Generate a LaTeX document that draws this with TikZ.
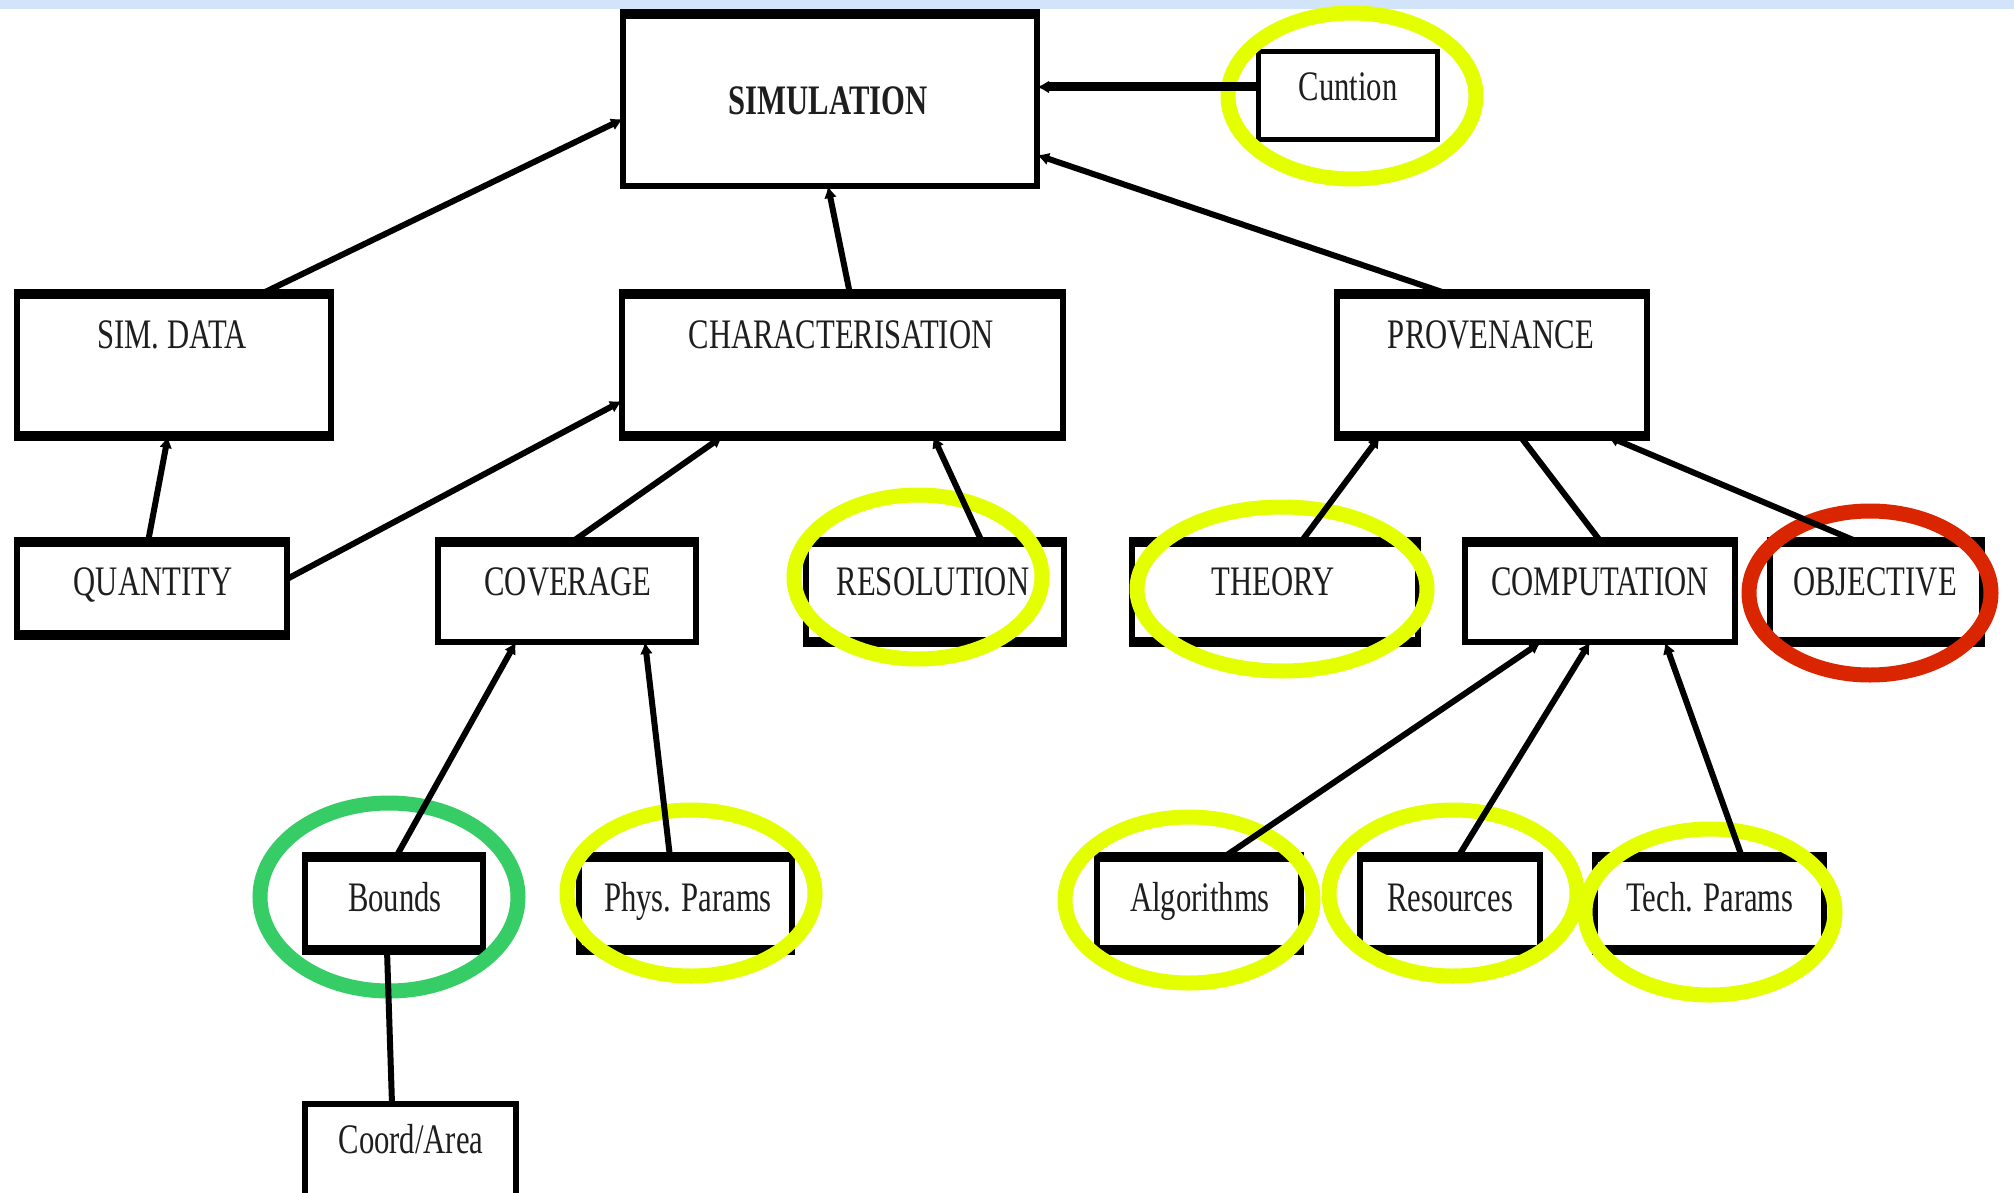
\documentclass[tikz,border=0pt]{standalone}
\usepackage{fontspec}
\newfontfamily\cfont[FakeStretch=0.73]{Liberation Serif}
\usetikzlibrary{arrows.meta,calc}
\definecolor{hlyellow}{RGB}{228,255,0}
\definecolor{hlgreen}{RGB}{54,204,102}
\definecolor{hlred}{RGB}{218,38,0}
\definecolor{bandblue}{RGB}{210,228,250}
\definecolor{txt}{RGB}{30,30,30}
\tikzset{
  box/.style={draw, line width=3pt, outer sep=0pt, inner sep=0pt},
  thickedge/.style={line width=5pt},
  lbl/.style={anchor=base, inner sep=0pt, text=txt, font=\cfont\fontsize{21}{25}\selectfont},
  conn/.style={line width=3pt, -{Latex[length=6pt,width=6.5pt]}},
  plainconn/.style={line width=3pt},
  ring/.style={line width=7.5pt},
}
\begin{document}
\begin{tikzpicture}[x=0.5pt,y=-0.5pt]
\useasboundingbox (0,0) rectangle (2014,1193);
\clip (0,0) rectangle (2014,1193);
\fill[white] (0,0) rectangle (2014,1193);
\fill[bandblue] (0,0) rectangle (2014,9);

% boxes
\node[box, minimum width=207pt, minimum height=86pt] (sim) at (830,100) {};
\node[box, line width=2.5pt, minimum width=89.5pt, minimum height=44pt] (cun) at (1347.5,96) {};
\node[box, minimum width=157pt, minimum height=71pt] (simdata) at (174,365) {};
\node[box, minimum width=220.5pt, minimum height=71pt] (char) at (842.5,365) {};
\node[box, minimum width=155pt, minimum height=71pt] (prov) at (1492,365) {};
\node[box, minimum width=135pt, minimum height=46.5pt] (quantity) at (152,588.5) {};
\node[box, minimum width=129pt, minimum height=50pt] (coverage) at (567,592) {};
\node[box, minimum width=129pt, minimum height=50pt] (resolution) at (935,592) {};
\node[box, minimum width=143pt, minimum height=50pt] (theory) at (1275,592) {};
\node[box, minimum width=135pt, minimum height=50pt] (comp) at (1600,592) {};
\node[box, minimum width=106pt, minimum height=50pt] (obj) at (1876,592) {};
\node[box, minimum width=89pt, minimum height=46.5pt] (bounds) at (394,903.5) {};
\node[box, minimum width=106.5pt, minimum height=46.5pt] (phys) at (685.5,903.5) {};
\node[box, minimum width=102pt, minimum height=46.5pt] (alg) at (1199,903.5) {};
\node[box, minimum width=90pt, minimum height=46.5pt] (res) at (1450,903.5) {};
\node[box, minimum width=114.5pt, minimum height=46.5pt] (tech) at (1709.5,903.5) {};
\node[box, minimum width=105.5pt, minimum height=48pt] (coord) at (410.5,1152) {};

% thicker top borders
\foreach \n in {sim,simdata,char,prov,quantity,coverage,resolution,theory,comp,obj,bounds,phys,alg,res,tech}
  \draw[thickedge] ($(\n.north west)+(-3,0)$) -- ($(\n.north east)+(3,0)$);
% thicker bottom borders
\foreach \n in {simdata,char,prov,quantity,resolution,theory,obj,bounds,phys,alg,res,tech}
  \draw[thickedge] ($(\n.south west)+(-3,0)$) -- ($(\n.south east)+(3,0)$);

% highlight rings
\draw[ring, hlyellow] (1352,96) ellipse [x radius=124, y radius=83];
\draw[ring, hlyellow] (918,577) ellipse [x radius=124, y radius=82];
\draw[ring, hlyellow] (1282,589) ellipse [x radius=145, y radius=82];
\draw[ring, hlred] (1870,593) ellipse [x radius=121, y radius=82];
\draw[ring, hlgreen] (389,897) ellipse [x radius=129, y radius=94];
\draw[ring, hlyellow] (691,893) ellipse [x radius=124, y radius=83];
\draw[ring, hlyellow] (1189,900) ellipse [x radius=124, y radius=83];
\draw[ring, hlyellow] (1453,893) ellipse [x radius=124, y radius=83];
\draw[ring, hlyellow] (1710,912) ellipse [x radius=125, y radius=83];

% connectors
\draw[conn] ($(simdata.north)+(87,0)$) -- ($(sim.west)+(0,19)$);
\draw[conn] ($(char.north)+(7.5,0)$) -- ($(sim.south)+(-2,0)$);
\draw[conn] ($(prov.north)+(-44,0)$) -- ($(sim.east)+(0,55)$);
\draw[conn, line width=4.5pt] ($(cun.west)+(0,-9)$) -- ($(sim.east)+(0,-13)$);
\draw[conn] ($(quantity.north)+(-4,0)$) -- ($(simdata.south)+(-6,0)$);
\draw[conn] ($(quantity.east)+(0,-9.5)$) -- ($(char.west)+(0,36)$);
\draw[conn] ($(coverage.north)+(5,0)$) -- ($(char.south)+(-119.5,0)$);
\draw[conn] ($(resolution.north)+(47,0)$) -- ($(char.south)+(90.5,0)$);
\draw[conn] ($(bounds.north)+(2,0)$) -- ($(coverage.south)+(-51,0)$);
\draw[conn] ($(phys.north)+(-15.5,0)$) -- ($(coverage.south)+(78,0)$);
\draw[plainconn] ($(coord.north)+(-18.5,0)$) -- ($(bounds.south)+(-7,0)$);
\draw[conn] ($(theory.north)+(26,0)$) -- ($(prov.south)+(-112,0)$);
\draw[plainconn] ($(comp.north)+(1,0)$) -- ($(prov.south)+(28,0)$);
\draw[conn] ($(obj.north)+(-18,0)$) -- ($(prov.south)+(115,0)$);
\draw[conn] ($(alg.north)+(25,0)$) -- ($(comp.south)+(-59,0)$);
\draw[conn] ($(res.north)+(8,0)$) -- ($(comp.south)+(-10,0)$);
\draw[conn] ($(tech.north)+(32.5,0)$) -- ($(comp.south)+(65,0)$);

% labels
\node[lbl, font=\cfont\bfseries\fontsize{21}{25}\selectfont] (sim-l) at (828,115) {SIMULATION};
\node[lbl] (cun-l) at (1348,101) {Cuntion};
\node[lbl] (simdata-l) at (172,348) {SIM. DATA};
\node[lbl] (char-l) at (841,348) {CHARACTERISATION};
\node[lbl] (prov-l) at (1491,348) {PROVENANCE};
\node[lbl] (quantity-l) at (153,595) {QUANTITY};
\node[lbl] (coverage-l) at (568,595) {COVERAGE};
\node[lbl] (resolution-l) at (933,595) {RESOLUTION};
\node[lbl] (theory-l) at (1273,595) {THEORY};
\node[lbl] (comp-l) at (1600,595) {COMPUTATION};
\node[lbl] (obj-l) at (1875,595) {OBJECTIVE};
\node[lbl] (bounds-l) at (395,911) {Bounds};
\node[lbl] (phys-l) at (688,911) {Phys. Params};
\node[lbl] (alg-l) at (1200,911) {Algorithms};
\node[lbl] (res-l) at (1450,911) {Resources};
\node[lbl] (tech-l) at (1710,911) {Tech. Params};
\node[lbl] (coord-l) at (411,1153) {Coord/Area};
\end{tikzpicture}
\end{document}
